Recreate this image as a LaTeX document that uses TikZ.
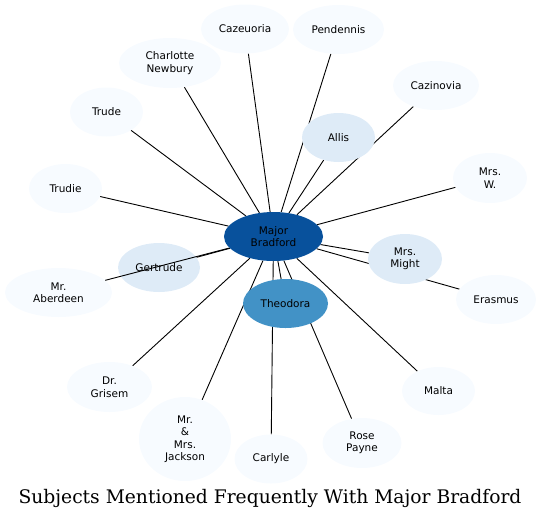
\documentclass[tikz,border=0pt]{standalone}
\usepackage{fontspec}
\setmainfont{DejaVu Serif}
\setsansfont{DejaVu Sans}
\usetikzlibrary{shapes.geometric,backgrounds}
\definecolor{hub}{HTML}{08519C}
\definecolor{mid}{HTML}{4292C6}
\definecolor{lite}{HTML}{DEEBF7}
\definecolor{pale}{HTML}{F7FBFF}
\begin{document}
\begin{tikzpicture}[x=1pt,y=-1pt,
  subj/.style={ellipse,inner sep=0pt,minimum width=73,minimum height=49,align=center,
    font=\sffamily\fontsize{10.5}{12.5}\selectfont,fill=pale},
  link/.style={draw=black,line width=0.9pt}]
\useasboundingbox(0,0)rectangle(540,520);
\node[subj,fill=hub,minimum width=99](major)at(273.5,236.5){Major\\Bradford};
\node[subj,fill=mid,minimum width=85](theodora)at(285.5,303.5){Theodora};
\node[subj,fill=lite,minimum width=74,minimum height=50](might)at(405,259){Mrs.\\Might};
\node[subj,fill=lite,minimum width=82](gertrude)at(159,267.5){Gertrude};
\node[subj,fill=lite](allis)at(338.5,137.5){Allis};
\node[subj,minimum width=107](aberdeen)at(58.5,292.5){Mr.\\Aberdeen};
\node[subj](trudie)at(65.5,188.5){Trudie};
\node[subj](trude)at(106.5,112){Trude};
\node[subj,minimum width=102,minimum height=50](charlotte)at(170,63){Charlotte\\Newbury};
\node[subj,minimum width=88](cazeuoria)at(245,29){Cazeuoria};
\node[subj,minimum width=91](pendennis)at(338.5,29.5){Pendennis};
\node[subj,minimum width=86](cazinovia)at(436,85.5){Cazinovia};
\node[subj,minimum width=74,minimum height=50](mrsw)at(490,178){Mrs.\\W.};
\node[subj,minimum width=80](erasmus)at(496,299.5){Erasmus};
\node[subj,minimum height=48](malta)at(438.5,391){Malta};
\node[subj,minimum width=79,minimum height=50](rose)at(362,443){Rose\\Payne};
\node[subj](carlyle)at(271,459){Carlyle};
\node[subj,minimum width=92,minimum height=84](jackson)at(185,439){Mr.\\\&\\Mrs.\\Jackson};
\node[subj,minimum width=85,minimum height=50](grisem)at(109.5,387){Dr.\\Grisem};
\node[font=\fontsize{18.7}{22}\selectfont](title)at(270,498){Subjects Mentioned Frequently With Major Bradford};
% spokes behind the bubbles
\begin{scope}[on background layer]
\foreach \s in {theodora,might,gertrude,allis,trudie,trude,charlotte,cazeuoria,pendennis,
  cazinovia,mrsw,erasmus,malta,rose,carlyle,jackson,grisem}
  \draw[link](major)--(\s);
\end{scope}
\draw[link](major)--(aberdeen);
\end{tikzpicture}
\end{document}
